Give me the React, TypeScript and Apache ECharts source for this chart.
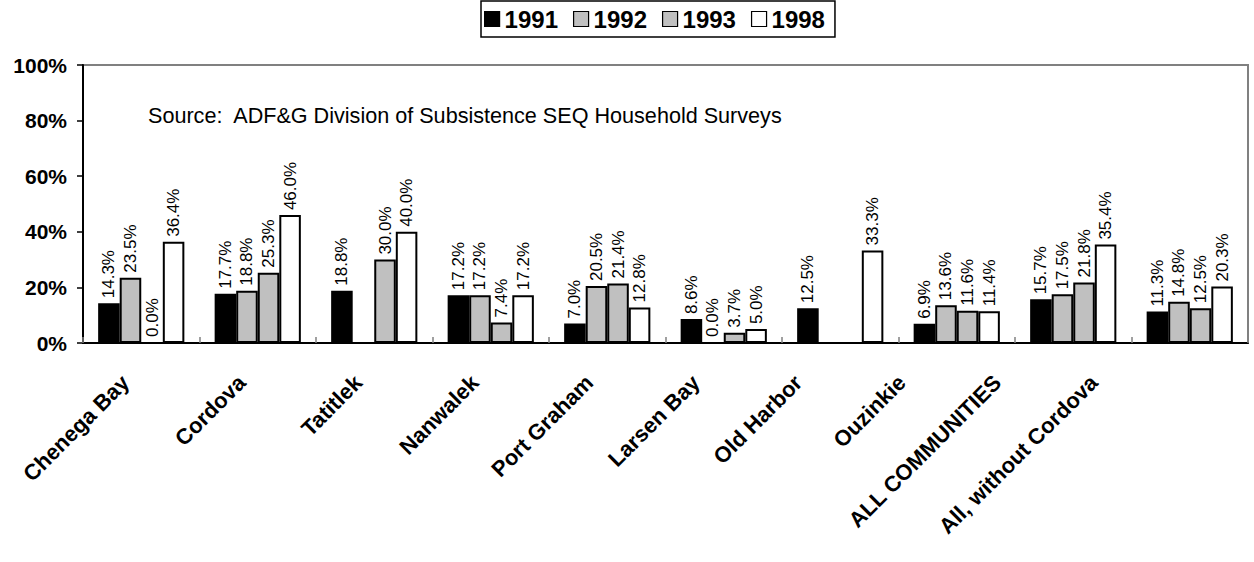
import React, { useEffect, useRef } from "react";
import * as echarts from "echarts";

const categories = [
  "Chenega Bay",
  "Cordova",
  "Tatitlek",
  "Nanwalek",
  "Port Graham",
  "Larsen Bay",
  "Old Harbor",
  "Ouzinkie",
  "ALL COMMUNITIES",
  "All, without Cordova",
];
const years = ["1991", "1992", "1993", "1998"];
const v1991 = [14.3, 17.7, 18.8, 17.2, 7.0, 8.6, 12.5, 6.9, 15.7, 11.3];
const v1992 = [23.5, 18.8, null, 17.2, 20.5, 0.0, null, 13.6, 17.5, 14.8];
const v1993 = [0.0, 25.3, 30.0, 7.4, 21.4, 3.7, null, 11.6, 21.8, 12.5];
const v1998 = [36.4, 46.0, 40.0, 17.2, 12.8, 5.0, 33.3, 11.4, 35.4, 20.3];
const yTicks = [0, 20, 40, 60, 80, 100];
const sourceText = "Source:  ADF&G Division of Subsistence SEQ Household Surveys";

// extra leftward shift of each category label (pixels), as in the reference layout
const labelShift = [6, 6, 6, 6, 8, 18, 32, 45, 66, 86];

const seriesValues = [v1991, v1992, v1993, v1998];
const fills = ["#000000", "#C0C0C0", "#C0C0C0", "#FFFFFF"];

export default function App() {
  const ref = useRef<HTMLDivElement>(null);
  useEffect(() => {
    if (!ref.current) return;
    const chart = echarts.init(ref.current, undefined, { renderer: "svg" });
    const font = "Arial, 'Liberation Sans', sans-serif";
    const catData = categories.map((c, i) => {
      const s = labelShift[i];
      return {
        value: c,
        textStyle: { padding: [0, 14 + s / Math.SQRT2, 0, 0], lineHeight: Math.SQRT2 * s },
      };
    });
    chart.setOption({
      animation: false,
      backgroundColor: "#ffffff",
      textStyle: { fontFamily: font, color: "#000" },
      legend: {
        left: 481,
        top: 1,
        itemGap: 15,
        itemWidth: 15,
        itemHeight: 15,
        padding: [6, 10, 6, 3],
        borderColor: "#000",
        borderWidth: 1.5,
        icon: "rect",
        itemStyle: { borderColor: "#000", borderWidth: 1.2 },
        textStyle: { fontSize: 24, fontWeight: "bold", color: "#000", fontFamily: font },
        data: years,
      },
      grid: {
        left: 83,
        right: 6,
        top: 65,
        bottom: 219,
        containLabel: false,
        outerBoundsMode: "none",
        show: true,
        borderColor: "#808080",
        borderWidth: 2,
        backgroundColor: "transparent",
      },
      xAxis: {
        type: "category",
        data: catData,
        axisLine: { show: true, lineStyle: { color: "#000", width: 2 } },
        axisTick: { show: true, inside: true, length: 6, lineStyle: { color: "#808080", width: 1.5 } },
        axisLabel: {
          rotate: 45,
          margin: 26,
          padding: [0, 14, 0, 0],
          fontSize: 22,
          fontWeight: "bold",
          color: "#000",
          fontFamily: font,
          interval: 0,
          formatter: (v: string) => v + "\n",
        },
        splitLine: { show: false },
      },
      yAxis: {
        type: "value",
        min: 0,
        max: 100,
        interval: 20,
        axisLine: { show: true, lineStyle: { color: "#000", width: 2 } },
        axisTick: { show: true, length: 6, lineStyle: { color: "#000", width: 1.5 } },
        axisLabel: {
          margin: 16,
          fontSize: 21,
          fontWeight: "bold",
          color: "#000",
          fontFamily: font,
          formatter: (v: number) => (yTicks.includes(v) ? v + "%" : ""),
        },
        splitLine: { show: false },
      },
      graphic: [
        {
          type: "text",
          left: 148,
          top: 104,
          style: { text: sourceText, fontSize: 21.6, fontFamily: font, fill: "#000" },
        },
      ],
      series: years.map((y, i) => ({
        name: y,
        type: "bar",
        data: seriesValues[i],
        barGap: "0%",
        barCategoryGap: "26%",
        itemStyle: { color: fills[i], borderColor: "#000", borderWidth: 2 },
        label: {
          show: true,
          position: "top",
          rotate: 90,
          align: "left",
          verticalAlign: "middle",
          distance: 5,
          fontSize: 17,
          fontFamily: font,
          color: "#000",
          formatter: (p: any) => (p.value == null ? "" : Number(p.value).toFixed(1) + "%"),
        },
      })),
    });
    return () => chart.dispose();
  }, []);
  return (
    <div
      ref={ref}
      style={{ position: "fixed", left: 0, top: 0, width: 1254, height: 562, background: "#fff" }}
    />
  );
}
